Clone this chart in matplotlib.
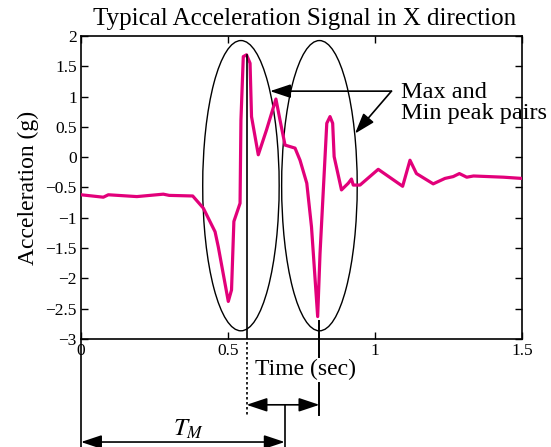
import matplotlib
matplotlib.use("Agg")
from matplotlib import pyplot as plt
from matplotlib.patches import Ellipse

# acceleration trace (time in s, accel in g)
time_s = [0, 0.076, 0.093, 0.19, 0.28, 0.30, 0.38, 0.416, 0.456, 0.467,
          0.501, 0.512, 0.52, 0.541, 0.544, 0.552, 0.563, 0.575, 0.58, 0.603,
          0.631, 0.663, 0.677, 0.694, 0.728, 0.745, 0.768, 0.784, 0.805, 0.813,
          0.836, 0.847, 0.856, 0.861, 0.886, 0.909, 0.92, 0.926, 0.949, 1.011,
          1.094, 1.119, 1.141, 1.198, 1.238, 1.266, 1.287, 1.312, 1.335, 1.437,
          1.499]
accel_g = [-0.62, -0.66, -0.62, -0.65, -0.61, -0.63, -0.64, -0.84, -1.23, -1.48,
           -2.38, -2.19, -1.06, -0.76, 0.61, 1.66, 1.69, 1.55, 0.67, 0.04,
           0.45, 0.96, 0.61, 0.20, 0.15, -0.05, -0.43, -1.15, -2.63, -1.59,
           0.56, 0.67, 0.56, 0.01, -0.54, -0.43, -0.36, -0.46, -0.46, -0.20,
           -0.48, -0.05, -0.27, -0.44, -0.35, -0.32, -0.27, -0.33, -0.31, -0.33,
           -0.35]

x_ticks = [0, 0.5, 1, 1.5]
x_tick_labels = ["0", "0.5", "1", "1.5"]
y_ticks = [2, 1.5, 1, 0.5, 0, -0.5, -1, -1.5, -2, -2.5, -3]

# peak pair ellipses: (centre time, centre accel, width, height)
ellipses = [(0.544, -0.47, 0.26, 4.79), (0.811, -0.47, 0.257, 4.79)]
t_max = 0.563
t_min = 0.811
t_m = 0.693

CURVE_COLOR = "#e2007a"

plt.rcParams["font.family"] = ["Liberation Serif", "DejaVu Serif"]
plt.rcParams["mathtext.fontset"] = "stix"

fig = plt.figure(figsize=(5.51, 4.47), dpi=100)
ax = fig.add_axes([81 / 551, 1 - 339 / 447, 441 / 551, 303 / 447])

ax.plot(time_s, accel_g, color=CURVE_COLOR, lw=2.3,
        solid_joinstyle="round", solid_capstyle="round", zorder=3)

for cx, cy, w, h in ellipses:
    ax.add_patch(Ellipse((cx, cy), w, h, fill=False, ec="black", lw=1.0, zorder=2))

ax.set_xlim(0, 1.5)
ax.set_ylim(-3, 2)
ax.set_xticks(x_ticks)
ax.set_xticklabels(x_tick_labels)
ax.set_yticks(y_ticks)
ax.set_yticklabels([f"{v:g}".replace("-", "\u2212") for v in y_ticks])
ax.tick_params(direction="in", length=5, width=1, top=True, right=True,
               labelsize=12.5, pad=3)
for s in ax.spines.values():
    s.set_linewidth(1.2)

fig.text(305 / 551, 1 - 25 / 447, "Typical Acceleration Signal in X direction",
         fontsize=18, ha="center", va="baseline")
ax.set_ylabel("Acceleration (g)", fontsize=17, labelpad=5)
ax.text(0.762, -3.495, "Time (sec)", fontsize=17, ha="center", va="center",
        clip_on=False)

# vertical markers at the max and min peak
ax.plot([t_max, t_max], [1.69, -3], color="black", lw=1.2, zorder=4)
ax.plot([t_max, t_max], [-3.05, -4.25], color="black", lw=1.2, ls=(0, (1.5, 1.5)),
        clip_on=False)
ax.plot([t_min, t_min], [-2.70, -3.29], color="black", lw=1.4, clip_on=False, zorder=4)
ax.plot([t_min, t_min], [-3.73, -4.25], color="black", lw=1.4, clip_on=False)
ax.plot([0, 0], [-3, -4.85], color="black", lw=1.2, clip_on=False)
ax.plot([t_m, t_m], [-4.086, -4.85], color="black", lw=1.2, clip_on=False)

arrow_kw = dict(arrowstyle="<|-|>,head_length=0.9,head_width=0.3", color="black",
                lw=1.2, shrinkA=0, shrinkB=0, mutation_scale=14)
ax.annotate("", xy=(t_max, -4.086), xytext=(t_min, -4.086),
            arrowprops=arrow_kw, annotation_clip=False)
ax.annotate("", xy=(0, -4.70), xytext=(t_m, -4.70),
            arrowprops=arrow_kw, annotation_clip=False)
ax.text(0.367, -4.49, "$T_M$", fontsize=18, ha="center", va="center", clip_on=False)

# "Max and Min peak pairs" callout
single_kw = dict(arrowstyle="-|>,head_length=0.9,head_width=0.3", color="black",
                 lw=1.2, shrinkA=0, shrinkB=0, mutation_scale=14)
ax.annotate("", xy=(0.643, 1.09), xytext=(1.056, 1.09), arrowprops=single_kw)
ax.annotate("", xy=(0.932, 0.39), xytext=(1.056, 1.09), arrowprops=single_kw)
ax.text(1.088, 0.89, "Max and\nMin peak pairs", fontsize=17.5, ha="left",
        va="center", linespacing=1.0, clip_on=False)

fig.savefig("out.png", dpi=100)
